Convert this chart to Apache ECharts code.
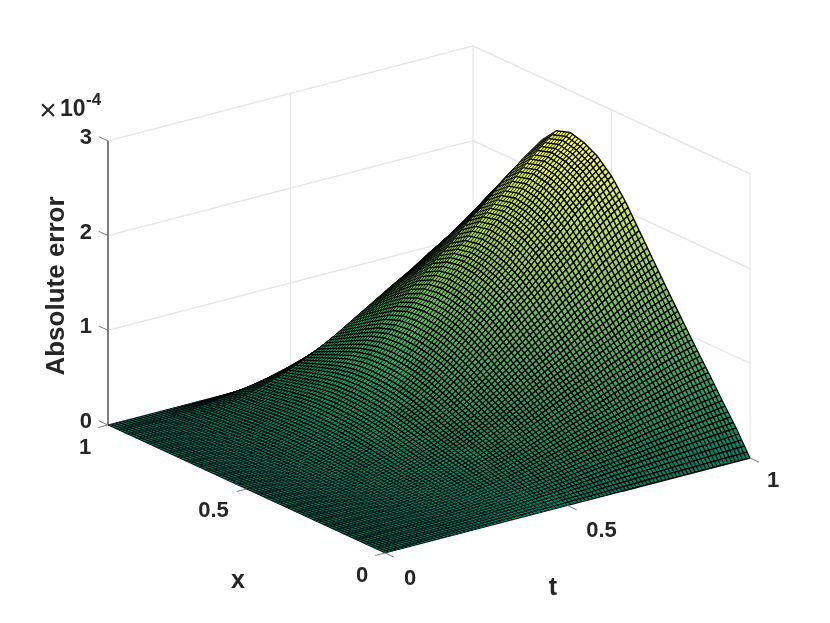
<!DOCTYPE html>
<html><head><meta charset="utf-8">
<style>html,body{margin:0;padding:0;background:#fff}#c{width:830px;height:623px}</style>
<script src="https://cdn.jsdelivr.net/npm/echarts@6/dist/echarts.min.js"></script>
</head><body><div id="c"></div>
<script>
const tValues=[0,.05,.1,.15,.2,.25,.3,.35,.4,.45,.5,.55,.6,.65,.7,.75,.8,.85,.9,.95,1];
const xValues=[0,.05,.1,.15,.2,.25,.3,.35,.4,.45,.5,.55,.6,.65,.7,.75,.8,.85,.9,.95,1];
// Absolute error in units of 1e-6. One row per t, one column per x.
const zTable=[
[0,0,0,0,0,0,0,0,0,0,0,0,0,0,0,0,0,0,0,0,0],
[0,.1,.1,.2,.2,.3,.3,.4,.5,.5,.6,.6,.6,.6,.6,.6,.5,.5,.4,.3,0],
[0,.3,.5,.7,.9,1.2,1.4,1.6,1.9,2.1,2.3,2.4,2.5,2.6,2.5,2.4,2.1,1.9,1.6,1,0],
[0,.6,1.1,1.6,2.1,2.6,3.1,3.6,4.2,4.7,5.2,5.5,5.7,5.7,5.6,5.3,4.7,4.2,3.6,2.3,0],
[0,1,1.9,2.8,3.7,4.6,5.5,6.5,7.4,8.4,9.2,9.8,10.1,10.2,10,9.4,8.4,7.4,6.3,4,0],
[0,1.6,2.9,4.4,5.8,7.2,8.6,10.1,11.6,13.1,14.4,15.3,15.8,15.9,15.6,14.7,13.2,11.6,9.9,6.3,0],
[0,2.3,4.2,6.3,8.3,10.4,12.4,14.6,16.7,18.9,20.7,22,22.7,23,22.5,21.2,19,16.7,14.2,9,0],
[0,3.1,5.9,8.8,11.5,14.4,17.3,20.3,23.3,26.3,28.8,30.5,31.5,31.9,31.3,29.4,26.4,23.1,19.8,12.5,0],
[0,4.1,7.8,11.6,15.2,19,22.8,26.7,30.7,34.7,38,40.3,41.6,42.1,41.3,38.8,34.8,30.5,26.1,16.5,0],
[0,5.4,10.1,15.1,19.8,24.7,29.7,34.8,40,45.2,49.5,52.5,54.2,54.8,53.8,50.5,45.4,39.8,34,21.5,0],
[0,6.9,12.9,19.3,25.3,31.6,38,44.6,51.2,57.8,63.3,67.1,69.3,70.1,68.8,64.6,58,50.9,43.5,27.5,0],
[0,8.6,16.2,24.2,31.7,39.7,47.6,55.9,64.2,72.5,79.4,84.2,86.9,88,86.3,81.1,72.8,63.8,54.5,34.5,0],
[0,10.5,19.7,29.4,38.6,48.3,58,68,78.1,88.2,96.6,102.5,105.8,107.1,105,98.7,88.6,77.7,66.4,42,0],
[0,12.4,23.3,34.7,45.5,56.9,68.3,80.2,92.1,104,113.9,120.8,124.7,126.2,123.8,116.3,104.4,91.6,78.2,49.5,0],
[0,14.3,26.8,39.9,52.4,65.6,78.7,92.3,106,119.7,131.1,139.1,143.6,145.4,142.5,134,120.3,105.5,90.1,57,0],
[0,16,30.1,44.8,58.9,73.6,88.3,103.7,119,134.4,147.2,156.2,161.3,163.2,160,150.4,135,118.4,101.1,64,0],
[0,18,33.8,50.4,66.2,82.8,99.4,116.6,133.9,151.2,165.6,175.7,181.4,183.6,180,169.2,151.9,133.2,113.8,72,0],
[0,19.8,37.1,55.3,72.7,90.9,109,128,146.9,165.9,181.7,192.8,199.1,201.5,197.5,185.7,166.7,146.2,124.8,79,0],
[0,21.8,40.9,60.9,80,100,120.1,140.9,161.8,182.7,200.1,212.3,219.2,221.9,217.5,204.5,183.6,161,137.5,87,0],
[0,23.5,44.2,65.8,86.5,108.1,129.7,152.3,174.8,197.4,216.2,229.4,236.9,239.7,235,220.9,198.3,173.9,148.5,94,0],
[0,25,47,70,92,115,138,162,186,210,230,244,252,256,251,235,211,185,158,100,0]
];
const xTicks=[0,.5,1], xTickLabels=['0','0.5','1'];
const tTicks=[0,.5,1], tTickLabels=['0','0.5','1'];
const zTicks=[0,1,2,3], zTickLabels=['0','1','2','3'];

// View: orthographic projection of the box onto the page.
const view={ox:385,oy:553,tx:365,ty:-95,xx:-277,xy:-128,zs:94.7};
const zMax=256, hatch=5;
const INK='#262626', FONT='"Liberation Sans",Arial,sans-serif';
function proj(x,t,z){return [view.ox+t*view.tx+x*view.xx, view.oy+t*view.ty+x*view.xy-z*view.zs];}
function colour(z){const v=Math.max(0,Math.min(1,z/zMax));
  return 'rgb('+Math.round(255*v)+','+Math.round(128+127*v)+',102)';}
// Mesh line width follows the on-screen gap between neighbouring lines.
function meshWidth(cross,len){const gap=Math.abs(cross)/(Math.max(len,1e-6)*hatch);
  return Math.max(0.85,Math.min(1.4,0.32*gap));}

// Surface cells, far corner first so nearer cells paint over farther ones.
const cells=[];
for(let i=tValues.length-2;i>=0;i--)for(let j=xValues.length-2;j>=0;j--)cells.push([i,j]);

function renderCell(params,api){
  const i=api.value(0), j=api.value(1);
  const c=[[i,j],[i,j+1],[i+1,j+1],[i+1,j]].map(([a,b])=>{
    const z=zTable[a][b];
    return {z:z,p:api.coord(proj(xValues[b],tValues[a],z/100))};});
  const d1=Math.abs(c[0].z-c[2].z), d2=Math.abs(c[1].z-c[3].z);
  const A=d1>=d2?c[0]:c[1], B=d1>=d2?c[2]:c[3];
  const fill=new echarts.graphic.LinearGradient(A.p[0],A.p[1],B.p[0],B.p[1],
    [{offset:0,color:colour(A.z)},{offset:1,color:colour(B.z)}],true);
  const lerp=(P,Q,f)=>[P[0]+(Q[0]-P[0])*f,P[1]+(Q[1]-P[1])*f];
  const children=[{type:'polygon',shape:{points:c.map(k=>k.p)},style:{fill:fill,stroke:null}}];
  const ux=c[1].p[0]-c[0].p[0], uy=c[1].p[1]-c[0].p[1], vx=c[3].p[0]-c[0].p[0], vy=c[3].p[1]-c[0].p[1];
  const cross=ux*vy-uy*vx, lu=Math.hypot(ux,uy), lv=Math.hypot(vx,vy);
  const sv={stroke:'#000',lineWidth:meshWidth(cross,lv),fill:null};
  const su={stroke:'#000',lineWidth:meshWidth(cross,lu),fill:null};
  for(let k=0;k<=hatch;k++){
    const f=k/hatch;
    let a=lerp(c[0].p,c[1].p,f), b=lerp(c[3].p,c[2].p,f);
    children.push({type:'line',shape:{x1:a[0],y1:a[1],x2:b[0],y2:b[1]},style:sv});
    a=lerp(c[0].p,c[3].p,f); b=lerp(c[1].p,c[2].p,f);
    children.push({type:'line',shape:{x1:a[0],y1:a[1],x2:b[0],y2:b[1]},style:su});
  }
  return {type:'group',children:children};
}

// Back-wall grid segments.
const zTop=zTicks[zTicks.length-1];
const gridSegs=[];
zTicks.slice(1).forEach(z=>{gridSegs.push([1,0,z,1,1,z]);gridSegs.push([1,1,z,0,1,z]);});
tTicks.slice(1).forEach(t=>gridSegs.push([1,t,0,1,t,zTop]));
xTicks.slice(0,-1).forEach(x=>gridSegs.push([x,1,0,x,1,zTop]));

function seg(api,a,b,style){const p=api.coord(a),q=api.coord(b);
  return {type:'line',shape:{x1:p[0],y1:p[1],x2:q[0],y2:q[1]},style:style};}

const xDir=[-9.7,2.5], tDir=[9.1,4.2], zDir=[-9.1,-4.2];
const xLabelOff=[[-23,23],[-33,22],[-23,23]];
const tLabelOff=[[25,26],[34,25],[23,23]];
const tickFont='bold 22px '+FONT;

const option={
  animation:false,
  backgroundColor:'#fff',
  grid:{left:0,right:0,top:0,bottom:0,containLabel:false},
  xAxis:{type:'value',min:0,max:830,show:false},
  yAxis:{type:'value',min:0,max:623,inverse:true,show:false},
  series:[
    {type:'custom',coordinateSystem:'cartesian2d',clip:false,z:1,silent:true,data:gridSegs,
     renderItem:(p,api)=>seg(api,proj(api.value(0),api.value(1),api.value(2)),proj(api.value(3),api.value(4),api.value(5)),{stroke:'#e4e4e4',lineWidth:1.2})},
    {type:'custom',coordinateSystem:'cartesian2d',clip:false,z:2,silent:true,progressive:0,data:cells,renderItem:renderCell},
    {type:'custom',coordinateSystem:'cartesian2d',clip:false,z:3,silent:true,data:[0],
     renderItem:(p,api)=>{
       const kids=[];
       const tick={stroke:'#7a7a7a',lineWidth:1};
       kids.push(seg(api,proj(1,0,0),proj(1,0,zTop),{stroke:INK,lineWidth:1.2}));
       zTicks.forEach((z,i)=>{
         const a=proj(1,0,z);
         kids.push(seg(api,a,[a[0]+zDir[0],a[1]+zDir[1]],tick));
         const c=api.coord(a);
         kids.push({type:'text',style:{text:zTickLabels[i],x:c[0]-16,y:c[1]-3,textAlign:'right',textVerticalAlign:'middle',fill:INK,font:tickFont}});
       });
       xTicks.forEach((x,i)=>{
         const a=proj(x,0,0);
         kids.push(seg(api,a,[a[0]+xDir[0],a[1]+xDir[1]],tick));
         const c=api.coord(a);
         kids.push({type:'text',style:{text:xTickLabels[i],x:c[0]+xLabelOff[i][0],y:c[1]+xLabelOff[i][1],textAlign:'center',textVerticalAlign:'middle',fill:INK,font:tickFont}});
       });
       tTicks.forEach((t,i)=>{
         const a=proj(0,t,0);
         kids.push(seg(api,a,[a[0]+tDir[0],a[1]+tDir[1]],tick));
         const c=api.coord(a);
         kids.push({type:'text',style:{text:tTickLabels[i],x:c[0]+tLabelOff[i][0],y:c[1]+tLabelOff[i][1],textAlign:'center',textVerticalAlign:'middle',fill:INK,font:tickFont}});
       });
       return {type:'group',children:kids};
     }}
  ],
  graphic:[
    {type:'text',x:238,y:581,style:{text:'x',textAlign:'center',textVerticalAlign:'middle',fill:INK,font:'bold 25px '+FONT}},
    {type:'text',x:553,y:588,style:{text:'t',textAlign:'center',textVerticalAlign:'middle',fill:INK,font:'bold 25px '+FONT}},
    {type:'text',x:57,y:286,rotation:Math.PI/2,style:{text:'Absolute error',textAlign:'center',textVerticalAlign:'middle',fill:INK,font:'bold 26px '+FONT}},
    {type:'text',x:48,y:112,style:{text:'×',textAlign:'center',textVerticalAlign:'middle',fill:INK,font:'30px '+FONT}},
    {type:'text',x:60,y:110,style:{text:'10',textAlign:'left',textVerticalAlign:'middle',fill:INK,font:'bold 23px '+FONT}},
    {type:'text',x:86,y:100,style:{text:'-4',textAlign:'left',textVerticalAlign:'middle',fill:INK,font:'bold 17px '+FONT}}
  ]
};
const chart=echarts.init(document.getElementById('c'),null,{renderer:'canvas'});
chart.setOption(option);
</script></body></html>
